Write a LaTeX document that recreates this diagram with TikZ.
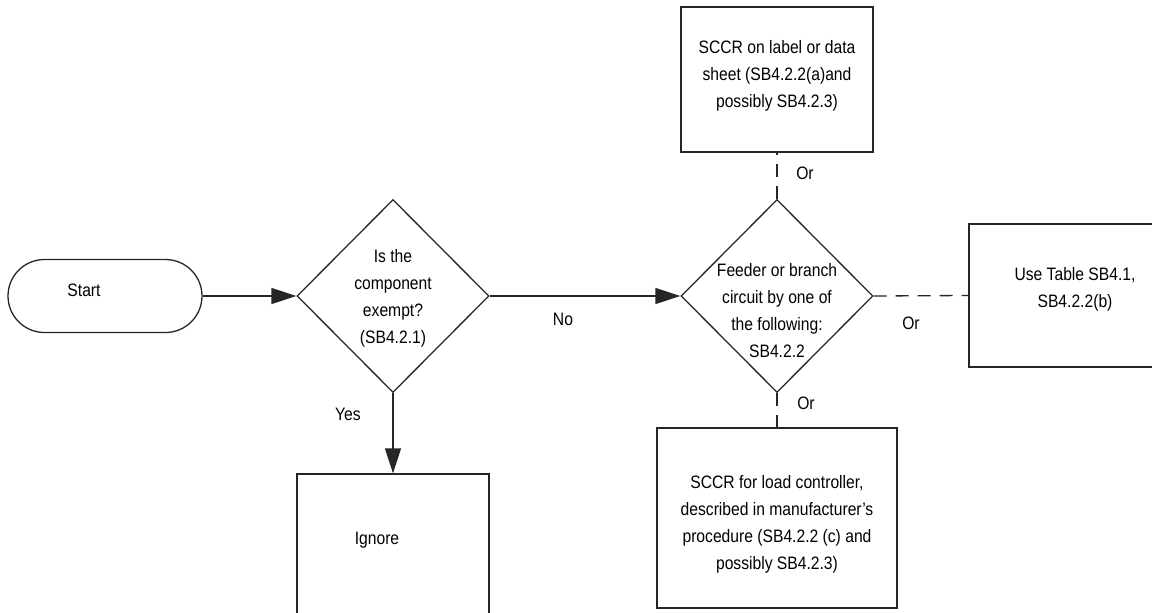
\documentclass[tikz,border=0pt]{standalone}
\usepackage{fontspec}
\setmainfont[FakeStretch=0.87]{Liberation Sans}
\usetikzlibrary{shapes.geometric,shapes.misc,arrows.meta}
\begin{document}
\begin{tikzpicture}[x=1pt,y=-1pt,
  every node/.style={font=\fontsize{18}{27}\selectfont},
  line/.style={draw=black!85,line width=1.3pt},
  terminal/.style={line,rounded rectangle,minimum width=194pt,minimum height=73pt,inner sep=0pt},
  decision/.style={line,diamond,minimum width=192pt,minimum height=193pt,inner sep=0pt},
  procbox/.style={line,rectangle,inner sep=0pt},
  txt/.style={align=center,inner sep=0pt},
  flow/.style={line,-{Triangle[length=25pt,width=16pt]}},
  alt/.style={line,dash pattern=on 13pt off 9pt}]
\clip (0,0) rectangle (1152,613);
\fill[white] (0,0) rectangle (1152,613);
% shapes
\node[terminal] (start) at (105,296) {};
\node[txt] (starttxt) at (84,290) {Start};
\node[decision] (exempt) at (393,296) {};
\node[txt] (exempttxt) at (393,298) {Is the\\component\\exempt?\\(SB4.2.1)};
\node[decision] (feeder) at (777,296) {};
\node[txt] (feedertxt) at (777,311) {Feeder or branch\\circuit by one of\\the following:\\SB4.2.2};
\node[procbox,minimum width=192pt,minimum height=145pt] (label) at (777,79.5) {};
\node[txt] (labeltxt) at (777,76) {SCCR on label or data\\sheet (SB4.2.2(a)and\\possibly SB4.2.3)};
\node[procbox,minimum width=206pt,minimum height=143pt] (table) at (1072,295.5) {};
\node[txt] (tabletxt) at (1075,289) {Use Table SB4.1,\\SB4.2.2(b)};
\node[procbox,minimum width=240pt,minimum height=180pt] (load) at (777,518) {};
\node[txt] (loadtxt) at (777,524) {SCCR for load controller,\\described in manufacturer’s\\procedure (SB4.2.2 (c) and\\possibly SB4.2.3)};
\node[procbox,minimum width=192pt,minimum height=170pt] (ignore) at (393,559) {};
\node[txt] (ignoretxt) at (377,540) {Ignore};
% connectors
\draw[flow] (start.east) -- (exempt.west);
\draw[flow] (exempt.east) -- (feeder.west);
\draw[flow] (exempt.south) -- (ignore.north);
\draw[alt] (feeder.north) -- (label.south);
\draw[alt] (feeder.east) -- (table.west);
\draw[alt] (feeder.south) -- (load.north);
% labels
\node[txt] (no) at (563,319) {No};
\node[txt] (yes) at (348,414) {Yes};
\node[txt] (or1) at (805,173) {Or};
\node[txt] (or2) at (911,323) {Or};
\node[txt] (or3) at (806,403) {Or};
\end{tikzpicture}
\end{document}
